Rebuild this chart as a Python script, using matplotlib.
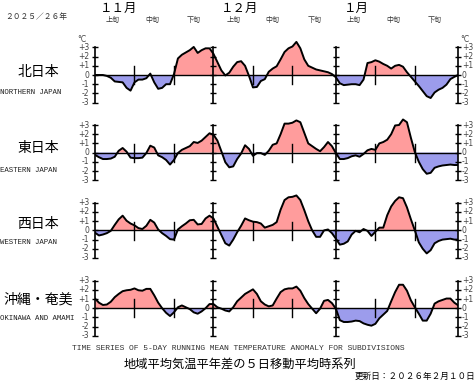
import numpy as np
import matplotlib
matplotlib.use('Agg')
import matplotlib.pyplot as plt

# 2025/11/1 - 2026/2/1, 日平均気温平年差の5日移動平均 (℃)
days = np.arange(93)

north = [0.0, 0.0, 0.0, -0.1, -0.3, -0.7, -0.75, -0.8, -1.4, -1.7,
         -0.8, -0.5, -0.5, -0.35, 0.15, -0.8, -1.5, -1.4, -1.0, -1.0,
         0.1, 1.8, 2.2, 2.45, 2.7, 3.05, 2.4, 2.7, 2.9, 2.9,
         2.3, 1.4, 0.5, -0.05, 0.25, 0.9, 1.4, 1.5, 1.0, -0.1,
         -1.35, -1.3, -0.65, -0.45, 0.35, 0.7, 0.95, 1.7, 2.5, 2.9,
         3.1, 3.6, 2.9, 1.7, 1.0, 0.8, 0.6, 0.5, 0.4, 0.3,
         0.1, -0.25, -0.9, -1.1, -1.05, -1.0, -1.0, -1.1, -0.5, 1.3,
         1.4, 1.6, 1.45, 1.2, 1.0, 0.7, 1.0, 1.1, 0.9, 0.3,
         -0.2, -0.7, -1.2, -1.75, -2.3, -2.5, -1.9, -1.6, -1.4, -1.05,
         -0.45, -0.2, 0.0]

east = [-0.25, -0.5, -0.7, -0.7, -0.65, -0.45, 0.2, 0.5, 0.1, -0.55,
        -0.6, -0.6, -0.55, -0.05, 0.75, 0.55, -0.3, -0.5, -0.8, -1.3,
        -0.8, -0.05, 0.3, 0.5, 0.7, 1.15, 1.05, 1.3, 1.7, 2.1,
        1.95, 1.3, 0.15, -1.05, -1.6, -1.5, -0.7, -0.1, 0.8, 0.4,
        -0.35, -0.05, -0.05, -0.25, 0.2, 0.85, 1.0, 2.0, 3.15, 3.15,
        3.25, 3.5, 3.3, 2.15, 1.0, 0.7, 0.4, 0.15, 0.6, 1.15,
        0.7, -0.05, -0.7, -0.7, -0.6, -0.4, -0.3, -0.45, -0.15, 0.25,
        0.4, 0.3, 1.0, 1.15, 1.4, 2.0, 2.95, 3.0, 3.6, 3.3,
        1.6, 0.05, -1.0, -1.8, -2.3, -2.2, -1.65, -1.5, -1.4, -1.35,
        -1.3, -1.35, -1.35]

west = [-0.25, -0.55, -0.45, -0.3, -0.05, 0.6, 1.2, 1.6, 1.05, 0.75,
        0.55, 0.25, 0.15, 0.5, 1.15, 0.85, 0.1, -0.3, -0.6, -0.95,
        -1.0, 0.1, 0.45, 0.75, 1.1, 1.15, 0.65, 0.7, 1.3, 1.6,
        1.3, 0.4, -0.5, -1.4, -1.65, -1.0, -0.2, 0.5, 1.3, 1.1,
        0.95, 0.9, 0.75, 0.3, 0.45, 0.6, 0.9, 2.25, 3.3, 3.6,
        3.65, 3.8, 3.3, 2.2, 1.0, 0.0, -0.7, -0.7, 0.0, 0.1,
        -0.3, -0.9, -1.55, -1.45, -1.2, -0.45, -0.05, -0.2, 0.15, -0.05,
        -0.6, -0.15, 0.3, 0.3, 1.65, 2.6, 3.2, 3.6, 3.5, 2.5,
        1.2, 0.0, -1.3, -2.0, -2.5, -2.15, -1.4, -1.15, -1.0, -0.95,
        -0.9, -1.0, -1.0]

okinawa = [1.05, 0.6, 0.35, 0.4, 0.7, 1.2, 1.55, 1.85, 1.95, 2.0,
           2.15, 1.95, 1.9, 2.1, 2.1, 1.4, 0.6, 0.0, -0.5, -0.85,
           -0.45, 0.1, 0.3, 0.1, -0.1, -0.45, -0.6, -0.35, 0.0, 0.45,
           0.45, 0.1, -0.05, -0.25, -0.35, 0.1, 0.75, 1.15, 1.55, 1.8,
           2.05, 1.55, 0.75, 0.4, 0.2, 0.3, 1.05, 1.75, 2.05, 2.15,
           2.15, 2.35, 1.9, 1.1, 0.45, -0.05, -0.55, -0.05, 0.8, 0.9,
           0.55, -0.05, -1.3, -1.5, -1.5, -1.45, -1.35, -1.4, -1.65, -1.8,
           -1.9, -1.7, -1.1, -0.7, -0.3, 0.75, 1.75, 2.55, 2.55, 1.9,
           0.85, 0.1, -0.6, -1.35, -1.35, -0.6, 0.5, 0.75, 0.9, 1.05,
           1.05, 0.6, 0.3]

regions = ['北日本', '東日本', '西日本', '沖縄・奄美']
regions_en = ['NORTHERN JAPAN', 'EASTERN JAPAN', 'WESTERN JAPAN', 'OKINAWA AND AMAMI']
series = [north, east, west, okinawa]

month_days = [0, 30, 61, 92]          # 11/1, 12/1, 1/1, 2/1
dekad_days = [10, 20, 40, 50, 71, 81]
dekad_centers = [4.5, 14.5, 25, 35, 45, 55.5, 65.5, 75.5, 86]
dekad_names = ['上旬', '中旬', '下旬'] * 3
month_names = ['１１月', '１２月', '１月']
ytick_vals = [3, 2, 1, 0, -1, -2, -3]
ytick_labels = ['+3', '+2', '+1', '0', '-1', '-2', '-3']

JP = ['Noto Sans CJK JP', 'DejaVu Sans']
MONO = 'Liberation Mono'
POS_C = '#ff9c9c'
NEG_C = '#9c9cec'

W, H = 476, 382
fig = plt.figure(figsize=(W / 100, H / 100), dpi=100)


def fx(px):
    return px / W


def fy(px):
    return 1 - px / H


ppd = 9.2                       # px per degree
zeros = [75, 152.6, 230.4, 308.2]
label_y = [72, 148, 224, 300]
label_en_y = [93, 170, 243, 318]
ylo, yhi = -3.6, 4.3
x0, x1 = 95, 458.3

for i, (z, vals) in enumerate(zip(zeros, series)):
    v = np.array(vals)
    ax = fig.add_axes([fx(x0), fy(z - ylo * ppd), (x1 - x0) / W, (yhi - ylo) * ppd / H])
    ax.set_xlim(0, 92)
    ax.set_ylim(ylo, yhi)
    ax.axis('off')

    ax.fill_between(days, v, 0, where=v >= 0, interpolate=True, color=POS_C, lw=0)
    ax.fill_between(days, v, 0, where=v <= 0, interpolate=True, color=NEG_C, lw=0)
    ax.axhline(0, color='black', lw=1.0)
    ax.plot(days, v, color='black', lw=1.4, solid_joinstyle='round')

    for d in month_days:
        ax.plot([d, d], [-3, 3], color='black', lw=1.2, clip_on=False)
        ax.plot([d] * 7, ytick_vals, ls='none', marker='_', ms=5, mew=1.0,
                color='black', clip_on=False)
    for d in dekad_days:
        ax.plot([d, d], [-1.0, 0.95], color='black', lw=1.0)

    for val, lab in zip(ytick_vals, ytick_labels):
        fig.text(fx(89), fy(z - val * ppd), lab, ha='right', va='center',
                 fontsize=5.5, color='#444444')
        fig.text(fx(462), fy(z - val * ppd), lab, ha='left', va='center',
                 fontsize=5.5, color='#444444')

    fig.text(fx(38), fy(label_y[i]), regions[i], ha='center', va='center',
             fontsize=10, family=JP)
    fig.text(fx(0), fy(label_en_y[i]), regions_en[i], ha='left', va='center',
             fontsize=5.3, family=MONO, color='#222222')

fig.text(fx(82), fy(39), '°C', ha='center', va='center', fontsize=5.5, color='#444444')
fig.text(fx(465), fy(39), '°C', ha='center', va='center', fontsize=5.5, color='#444444')

# header
for d, name in zip([1.2, 32, 63], month_names):
    fig.text(fx(x0 + d * (x1 - x0) / 92), fy(8), name, ha='left', va='center',
             fontsize=9, family=JP)
for c, name in zip(dekad_centers, dekad_names):
    fig.text(fx(x0 + c * (x1 - x0) / 92), fy(20), name, ha='center', va='center',
             fontsize=5, family=JP, color='#333333')
fig.text(fx(5), fy(17), '２０２５／２６年', ha='left', va='center', fontsize=5.6,
         family=JP, color='#333333')

# footer
fig.text(fx(238), fy(348), 'TIME SERIES OF 5-DAY RUNNING MEAN TEMPERATURE ANOMALY FOR SUBDIVISIONS',
         ha='center', va='center', fontsize=5.8, family=MONO, color='#333333')
fig.text(fx(240), fy(364), '地域平均気温平年差の５日移動平均時系列', ha='center', va='center',
         fontsize=8.8, family=JP)
fig.text(fx(475), fy(376), '更新日：２０２６年２月１０日', ha='right', va='center',
         fontsize=6.2, family=JP)

fig.savefig('out.png', dpi=100)
